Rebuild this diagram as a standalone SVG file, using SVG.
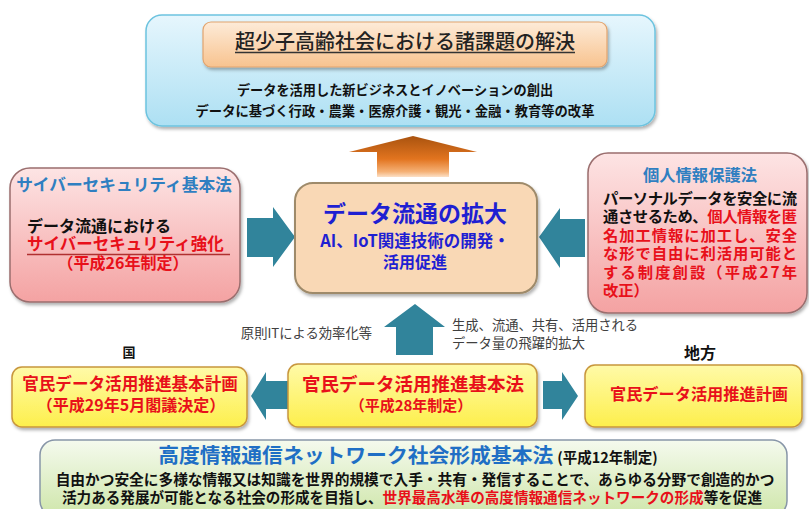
<svg xmlns="http://www.w3.org/2000/svg" width="809" height="509" viewBox="0 0 809 509">
<defs>
<style>
text{font-family:"Noto Sans CJK JP","Noto Sans CJK SC",sans-serif;}
.b{font-weight:bold;}
.red{fill:#e8101a;}
.blk{fill:#111;}
.blue{fill:#2f7fc1;}
.lbl{font-size:13.3px;fill:#404040;}
.arrow{fill:#31849b;}
.pinkbox{fill:url(#gPink);stroke:#9a6e6e;stroke-width:1.5;}
.yelbox{fill:url(#gYel);stroke:#c8963c;stroke-width:1.5;}
</style>
<linearGradient id="gSky" x1="0" y1="0" x2="0" y2="1"><stop offset="0" stop-color="#e6f6fd"/><stop offset="1" stop-color="#ade0f3"/></linearGradient>
<linearGradient id="gPeach" x1="0" y1="0" x2="0" y2="1"><stop offset="0" stop-color="#fdebd8"/><stop offset="1" stop-color="#f8c38f"/></linearGradient>
<linearGradient id="gPink" x1="0" y1="0" x2="0" y2="1"><stop offset="0" stop-color="#fde4e4"/><stop offset="1" stop-color="#f4a2a2"/></linearGradient>
<linearGradient id="gYel" x1="0" y1="0" x2="0" y2="1"><stop offset="0" stop-color="#fffaa8"/><stop offset="1" stop-color="#fdef4c"/></linearGradient>
<linearGradient id="gGreen" x1="0" y1="0" x2="0" y2="1"><stop offset="0" stop-color="#f5faee"/><stop offset="1" stop-color="#cfe6aa"/></linearGradient>
<linearGradient id="gOrange" gradientUnits="userSpaceOnUse" x1="0" y1="136" x2="0" y2="178"><stop offset="0" stop-color="#a9530f"/><stop offset="0.55" stop-color="#e2741f"/><stop offset="0.85" stop-color="#f5b176"/><stop offset="1" stop-color="#fde9d6"/></linearGradient>
<filter id="sh" x="-10%" y="-10%" width="120%" height="130%"><feDropShadow dx="1.5" dy="2.5" stdDeviation="1.8" flood-color="#000" flood-opacity="0.3"/></filter>
</defs>
<rect width="809" height="509" fill="#ffffff"/>

<g id="connectors">
<polygon points="413,136 477,152 449,152 449,177 377,177 377,152 349,152" fill="url(#gOrange)"/>
<polygon class="arrow" points="247,218 273,218 273,207 295,237 273,267 273,257 247,257"/>
<polygon class="arrow" points="585,219 560,219 560,208 539,237 560,268 560,257 585,257"/>
<polygon class="arrow" points="415,304 445,327 433,327 433,355 396,355 396,327 384,327"/>
<polygon class="arrow" points="251,396 266,372 266,381 292,381 292,409 266,409 266,420"/>
<polygon class="arrow" points="543,381 562,381 562,372 578,396 562,420 562,409 543,409"/>
</g>

<g id="top-box">
<rect x="146" y="15" width="509" height="111" rx="16" fill="url(#gSky)" stroke="#6cc3df" stroke-width="1.5" filter="url(#sh)"/>
<rect x="203" y="22" width="404" height="45" rx="8" fill="url(#gPeach)" stroke="#e2a46e" stroke-width="1.2" filter="url(#sh)"/>
<text x="405" y="49" text-anchor="middle" font-size="20" font-weight="500" fill="#222">超少子高齢社会における諸課題の解決</text>
<line x1="235" y1="52.5" x2="575" y2="52.5" stroke="#333" stroke-width="1.4"/>
<text class="b blk" x="395" y="95" text-anchor="middle" font-size="13.2">データを活用した新ビジネスとイノベーションの創出</text>
<text class="b blk" x="395" y="116" text-anchor="middle" font-size="13.3">データに基づく行政・農業・医療介護・観光・金融・教育等の改革</text>
</g>

<g id="center-box">
<rect x="295" y="183" width="242" height="110" rx="18" fill="#f9d8b5" stroke="#9e8a6a" stroke-width="2" filter="url(#sh)"/>
<text class="b" x="415" y="222" text-anchor="middle" font-size="23" fill="#1f1fd2">データ流通の拡大</text>
<text class="b" x="415" y="247" text-anchor="middle" font-size="16.5" fill="#1f1fd2">AI、IoT関連技術の開発・</text>
<text class="b" x="415" y="268" text-anchor="middle" font-size="16" fill="#1f1fd2">活用促進</text>
</g>

<g id="left-box">
<rect class="pinkbox" x="10" y="168" width="230" height="134" rx="20" filter="url(#sh)"/>
<text class="b blue" x="124" y="191" text-anchor="middle" font-size="16.7">サイバーセキュリティ基本法</text>
<text class="b blk" x="27" y="232" font-size="16">データ流通における</text>
<text class="b red" x="27" y="250" font-size="16.5">サイバーセキュリティ強化</text>
<line x1="27" y1="254.5" x2="230" y2="254.5" stroke="#b03030" stroke-width="1.4"/>
<text class="b red" x="123" y="269" text-anchor="middle" font-size="16">（平成26年制定）</text>
</g>

<g id="right-box">
<rect class="pinkbox" x="588" y="153" width="219" height="160" rx="20" filter="url(#sh)"/>
<text class="b blue" x="700" y="181" text-anchor="middle" font-size="16.3">個人情報保護法</text>
<text class="b" x="603" y="204" font-size="15.3" textLength="194" lengthAdjust="spacing"><tspan class="blk">パーソナルデータを安全に流</tspan></text>
<text class="b" x="603" y="222" font-size="15.3" textLength="194" lengthAdjust="spacing"><tspan class="blk">通させるため、</tspan><tspan class="red">個人情報を匿</tspan></text>
<text class="b red" x="603" y="241" font-size="15.3" textLength="194" lengthAdjust="spacing">名加工情報に加工し、安全</text>
<text class="b red" x="603" y="259" font-size="15.3" textLength="194" lengthAdjust="spacing">な形で自由に利活用可能と</text>
<text class="b red" x="603" y="278" font-size="15.3" textLength="194" lengthAdjust="spacing">する制度創設（平成27年</text>
<text class="b red" x="603" y="296" font-size="15.3">改正）</text>
</g>

<g id="labels">
<text class="lbl" x="372" y="338" text-anchor="end">原則ITによる効率化等</text>
<text class="lbl" x="452" y="330">生成、流通、共有、活用される</text>
<text class="lbl" x="452" y="348">データ量の飛躍的拡大</text>
<text class="b blk" x="129" y="357" text-anchor="middle" font-size="13">国</text>
<text class="b blk" x="700" y="359" text-anchor="middle" font-size="16">地方</text>
</g>

<g id="bottom-left-box">
<rect class="yelbox" x="12" y="367" width="235" height="60" rx="10" filter="url(#sh)"/>
<text class="b red" x="130" y="390" text-anchor="middle" font-size="16.6">官民データ活用推進基本計画</text>
<text class="b red" x="131" y="411" text-anchor="middle" font-size="16">（平成29年5月閣議決定）</text>
</g>

<g id="bottom-center-box">
<rect class="yelbox" x="288" y="364" width="249" height="63" rx="10" filter="url(#sh)"/>
<text class="b red" x="413" y="391" text-anchor="middle" font-size="18.5">官民データ活用推進基本法</text>
<text class="b red" x="411" y="411" text-anchor="middle" font-size="15">（平成28年制定）</text>
</g>

<g id="bottom-right-box">
<rect class="yelbox" x="585" y="365" width="217" height="62" rx="10" filter="url(#sh)"/>
<text class="b red" x="699" y="400" text-anchor="middle" font-size="16.2">官民データ活用推進計画</text>
</g>

<g id="bottom-law-box">
<rect x="40" y="440" width="747" height="76" rx="15" fill="url(#gGreen)" stroke="#8896a8" stroke-width="1.5"/>
<text x="408" y="463" text-anchor="middle"><tspan class="b" font-size="20.8" fill="#1f6fc5">高度情報通信ネットワーク社会形成基本法</tspan><tspan class="b blk" font-size="14.5" dx="4">(平成12年制定)</tspan></text>
<text class="b blk" x="415" y="485" text-anchor="middle" font-size="14.7">自由かつ安全に多様な情報又は知識を世界的規模で入手・共有・発信することで、あらゆる分野で創造的かつ</text>
<text class="b" x="412" y="503" text-anchor="middle" font-size="14.6"><tspan class="blk">活力ある発展が可能となる社会の形成を目指し、</tspan><tspan class="red">世界最高水準の高度情報通信ネットワークの形成</tspan><tspan class="blk">等を促進</tspan></text>
</g>
</svg>
